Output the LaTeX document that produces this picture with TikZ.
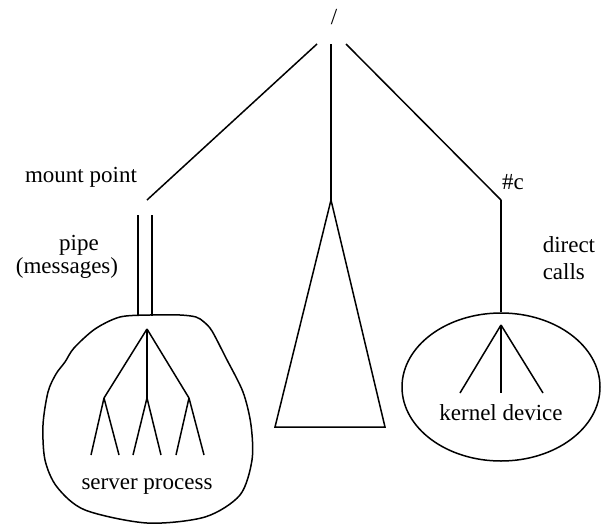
\documentclass[tikz,border=0pt]{standalone}
\usepackage{fontspec}
\setmainfont{Liberation Serif}
\usetikzlibrary{positioning, shapes.geometric}

\begin{document}
\begin{tikzpicture}[
    x=1pt, y=-1pt,
    line width=1.5pt,
    txt/.style={font=\fontsize{23}{27}\selectfont, inner sep=0pt},
    region/.style={ellipse, draw, line width=1.5pt, inner sep=0pt}
]
    \useasboundingbox (0,0) rectangle (608,525);

    % 1. Root and the three branches leaving it
    \node[txt] (root) at (334,17) {/};
    \coordinate (rootL) at (317,44);
    \coordinate (rootM) at (331,44);
    \coordinate (rootR) at (346,44);
    \coordinate (mount) at (147,200);
    \coordinate (apex) at (331,200);
    \coordinate (devc) at (501,200);

    \draw (rootL) -- (mount);
    \draw (rootM) -- (apex);
    \draw (rootR) -- (devc);

    % 2. Middle subtree as a plain triangle
    \coordinate (baseL) at (275,427);
    \coordinate (baseR) at (385,427);
    \draw (apex) -- (baseL) -- (baseR) -- cycle;

    % 3. Left side: pipe into the server process
    \coordinate (pipeLt) at (138,215);
    \coordinate (pipeRt) at (152,215);
    \coordinate (pipeLb) at (138,316);
    \coordinate (pipeRb) at (152,316);
    \draw (pipeLt) -- (pipeLb);
    \draw (pipeRt) -- (pipeRb);

    % hand drawn outline of the process
    \draw plot[smooth cycle, tension=0.5] coordinates {
        (120,317) (150,315) (180,315) (196,317) (204,322) (212,331)
        (226,358) (243,392) (251,425) (252,460) (240,495) (205,517)
        (147,523) (85,510) (57,487) (45,460) (43,425) (48,392)
        (56,374) (65,362) (74,348) (95,329)};

    % server tree
    \coordinate (s0) at (147,329);
    \coordinate (s1) at (104,398);
    \coordinate (s2) at (147,398);
    \coordinate (s3) at (189,398);
    \draw (s0) -- (s1);
    \draw (s0) -- (s2);
    \draw (s0) -- (s3);
    \foreach \n/\a/\b in {s1/91/119, s2/133/161, s3/176/204} {
        \draw (\n) -- (\a,455);
        \draw (\n) -- (\b,455);
    }

    % 4. Right side: direct calls into the kernel device
    \node[region, minimum width=198pt, minimum height=148pt] (kernel) at (501,387) {};
    \draw (devc) -- (kernel.north);

    \coordinate (k0) at (501,325);
    \foreach \x in {460,501,543} {
        \draw (k0) -- (\x,393);
    }

    % 5. Labels
    \node[txt] (mountlbl) at (81,177) {mount point};
    \node[txt] (pipelbl) at (79,245) {pipe};
    \node[txt] (msglbl) at (67,268) {(messages)};
    \node[txt] (devlbl) at (513,182) {\#c};
    \node[txt, align=left, anchor=west] (calllbl) at (542,258) {direct\\calls};
    \node[txt] (srvlbl) at (147,487) {server process};
    \node[txt] (kernlbl) at (501,413) {kernel device};

\end{tikzpicture}
\end{document}
